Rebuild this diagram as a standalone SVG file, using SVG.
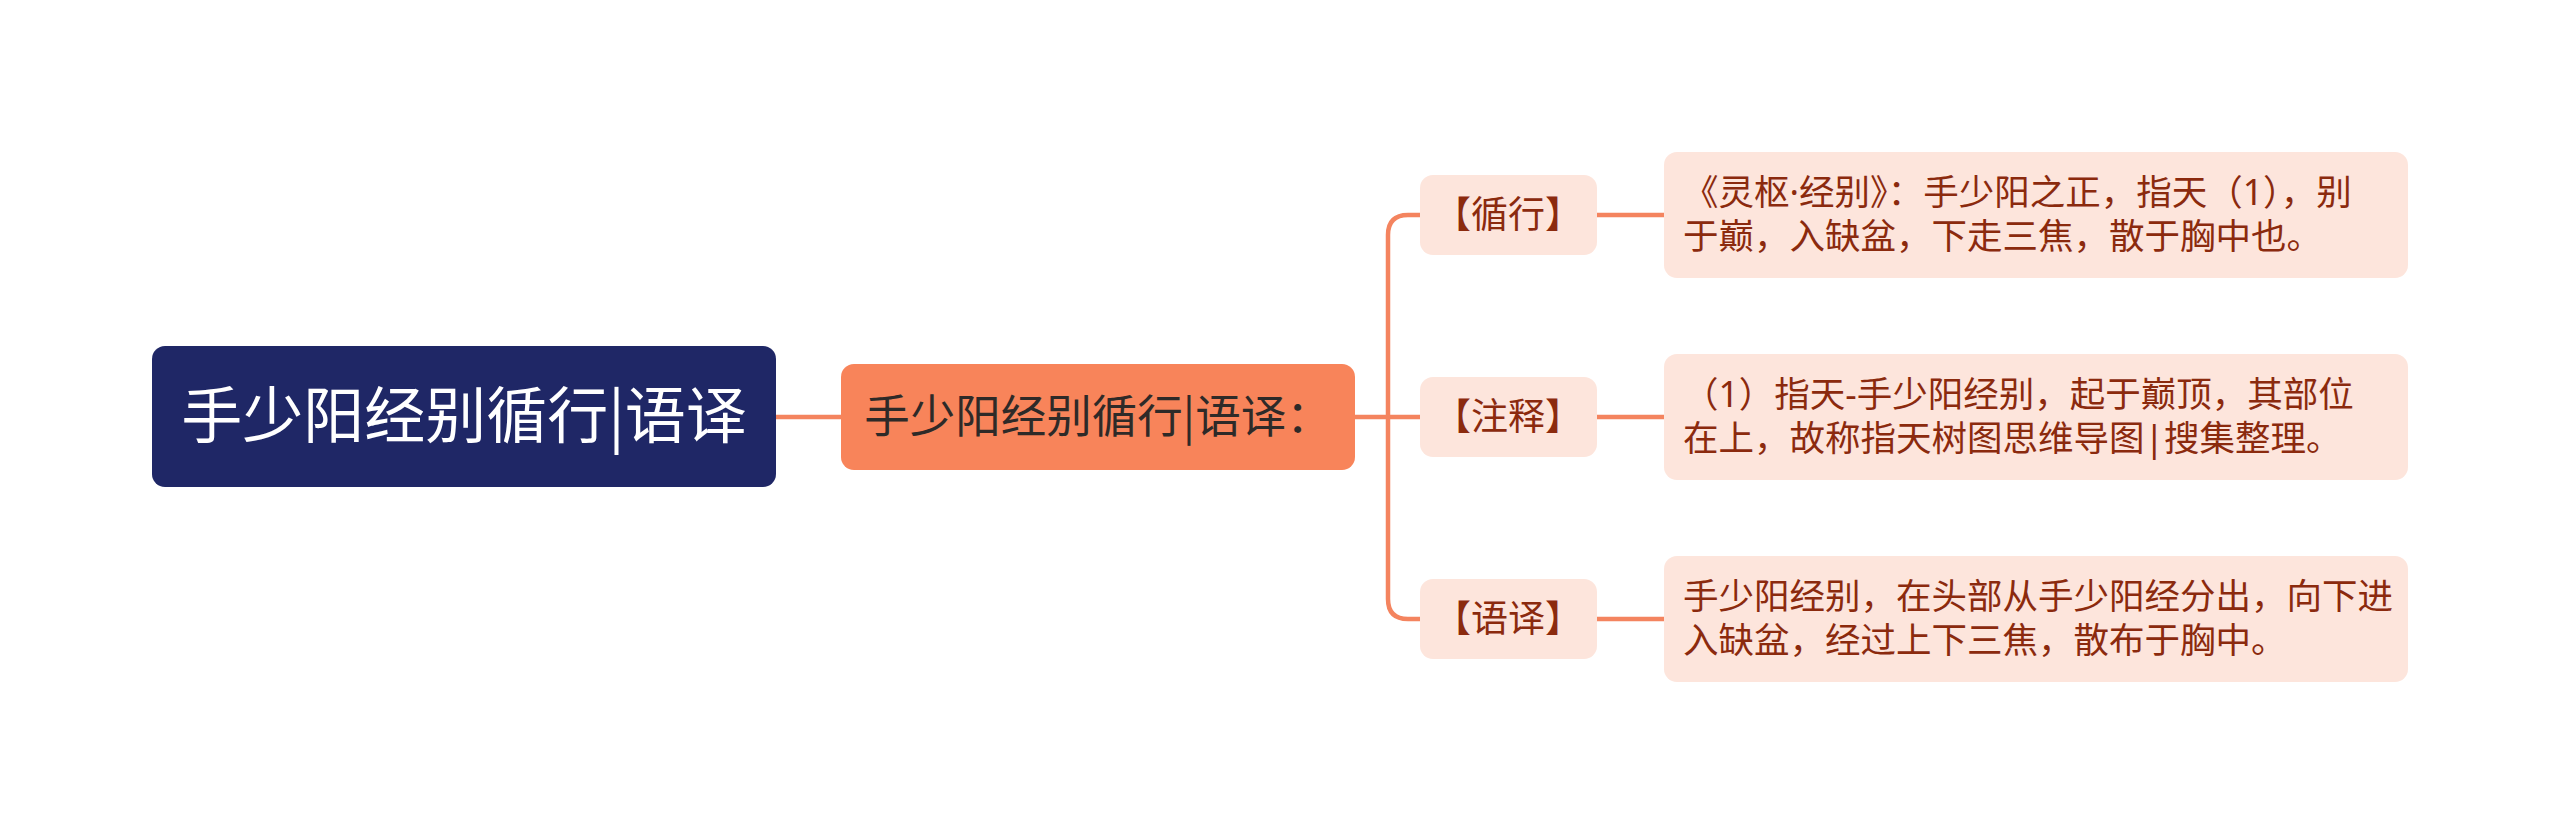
<svg xmlns="http://www.w3.org/2000/svg" width="2560" height="835" viewBox="0 0 2560 835">
<style>
text{font-family:"Noto Sans CJK SC","Noto Sans",sans-serif;}
.conn{fill:none;stroke:#f4845f;stroke-width:4.5;stroke-linecap:round;}
.lbl{fill:#fde5dc;}
.lt{fill:#8b2a0e;font-size:37px;text-anchor:middle;}
.bt{fill:#8b2a0e;font-size:35.5px;font-family:"Noto Sans","Noto Sans CJK SC",sans-serif;}
</style>
<rect width="2560" height="835" fill="#ffffff"/>
<g id="connectors">
<path class="conn" d="M776 417 H841"/>
<path class="conn" d="M1355 417 H1420"/>
<path class="conn" d="M1420 215 H1408 Q1388 215 1388 235 V599 Q1388 619 1408 619 H1420"/>
<path class="conn" d="M1597 215 H1664"/>
<path class="conn" d="M1597 417 H1664"/>
<path class="conn" d="M1597 619 H1664"/>
</g>
<g id="root">
<rect x="152" y="346" width="624" height="141" rx="13" fill="#1f2766"/>
<text x="464" y="438" font-size="61" fill="#ffffff" text-anchor="middle">手少阳经别循行|语译</text>
</g>
<g id="center">
<rect x="841" y="364" width="514" height="106" rx="13" fill="#f8845a"/>
<text x="1098" y="433" font-size="45.5" fill="#2e2a28" text-anchor="middle">手少阳经别循行|语译：</text>
</g>
<g id="label1">
<rect class="lbl" x="1420" y="175" width="177" height="80" rx="13"/>
<text class="lt" x="1508" y="228">【循行】</text>
</g>
<g id="label2">
<rect class="lbl" x="1420" y="377" width="177" height="80" rx="13"/>
<text class="lt" x="1508" y="430">【注释】</text>
</g>
<g id="label3">
<rect class="lbl" x="1420" y="579" width="177" height="80" rx="13"/>
<text class="lt" x="1508" y="632">【语译】</text>
</g>
<g id="box1">
<rect class="lbl" x="1664" y="152" width="744" height="126" rx="13"/>
<text class="bt" x="1683" y="205">《灵枢·经别》：手少阳之正，指天（1），别</text>
<text class="bt" x="1683" y="249">于巅，入缺盆，下走三焦，散于胸中也。</text>
</g>
<g id="box2">
<rect class="lbl" x="1664" y="354" width="744" height="126" rx="13"/>
<text class="bt" x="1683" y="407">（1）指天-手少阳经别，起于巅顶，其部位</text>
<text class="bt" x="1683" y="451">在上，故称指天树图思维导图|搜集整理。</text>
</g>
<g id="box3">
<rect class="lbl" x="1664" y="556" width="744" height="126" rx="13"/>
<text class="bt" x="1683" y="609">手少阳经别，在头部从手少阳经分出，向下进</text>
<text class="bt" x="1683" y="653">入缺盆，经过上下三焦，散布于胸中。</text>
</g>
</svg>
